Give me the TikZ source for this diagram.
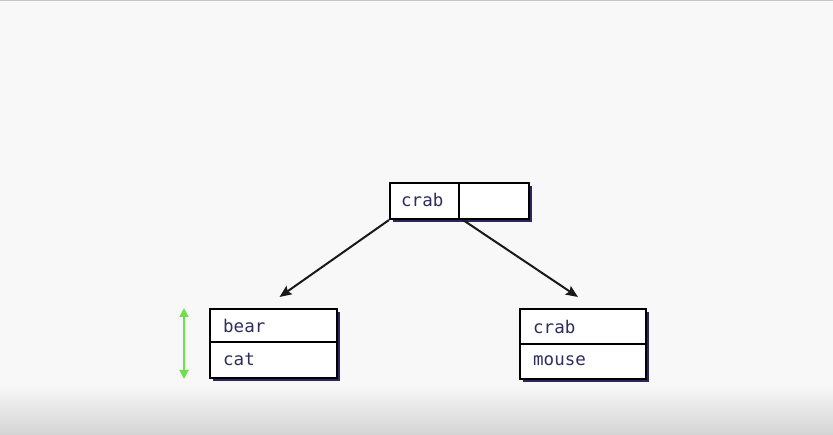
\documentclass[tikz,border=0pt]{standalone}
\usepackage{fontspec}
\setmonofont{DejaVu Sans Mono}
\usetikzlibrary{arrows.meta,calc}
\definecolor{bgc}{HTML}{F8F8F8}
\definecolor{navy}{HTML}{2B2660}
\definecolor{txt}{HTML}{2F2C5E}
\definecolor{grn}{HTML}{6EE04A}
\tikzset{
  cell/.style={draw=black, line width=2pt, fill=white, rectangle, inner sep=0pt, anchor=north west},
  lbl/.style={font=\ttfamily\fontsize{17.5}{17.5}\selectfont, text=txt, anchor=west, inner sep=0pt},
  shadow/.style={fill=navy, draw=none},
  link/.style={line width=2pt, draw=black!90, -{Stealth[length=12pt,width=10pt,inset=2pt]}},
  measure/.style={line width=2pt, draw=grn, {Triangle[length=9pt,width=9pt]}-{Triangle[length=9pt,width=9pt]}}
}
\begin{document}
\begin{tikzpicture}[x=1pt,y=-1pt]
% background
\fill[bgc] (0,0) rectangle (833,435);
\shade[top color=bgc, bottom color=black!17] (0,385) rectangle (833,435);
\fill[black!22] (0,0) rectangle (833,1.5);
\useasboundingbox (0,0) rectangle (833,435);

% shadows
\fill[shadow] (393,186) rectangle (532,222);
\fill[shadow] (213,312) rectangle (340,381);
\fill[shadow] (523,312) rectangle (649,382);

% top node
\node[cell, minimum width=69pt, minimum height=36pt] (t1) at (389,182) {};
\node[cell, minimum width=70pt, minimum height=36pt] (t2) at (458,182) {};
\node[lbl] (t1l) at (401,200) {crab};

% left node
\node[cell, minimum width=127pt, minimum height=33pt] (l1) at (209,308) {};
\node[cell, minimum width=127pt, minimum height=36pt] (l2) at (209,341) {};
\node[lbl] (l1l) at (223,326) {bear};
\node[lbl] (l2l) at (223,359) {cat};

% right node
\node[cell, minimum width=126pt, minimum height=35pt] (r1) at (519,308) {};
\node[cell, minimum width=126pt, minimum height=35pt] (r2) at (519,343) {};
\node[lbl] (r1l) at (533,327) {crab};
\node[lbl] (r2l) at (533,361) {mouse};

% connectors
\coordinate (la) at ($(l1.north)+(6,-11)$);
\coordinate (ra) at ($(r1.north)+(-5,-11)$);
\draw[link] (t1.south west) -- (la);
\draw[link] ($(t2.south west)+(5,0)$) -- (ra);

% green measure
\coordinate (g1) at (184,308);
\coordinate (g2) at (184,379);
\draw[measure] (g1) -- (g2);
\end{tikzpicture}
\end{document}
